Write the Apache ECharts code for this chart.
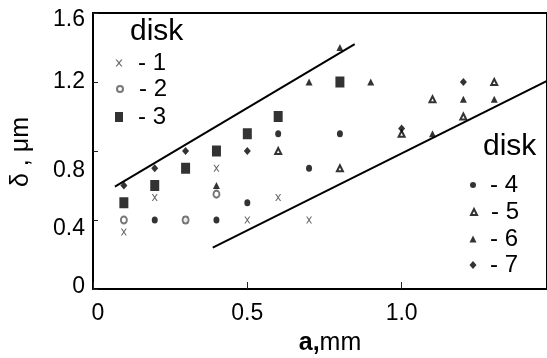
<!DOCTYPE html>
<html><head><meta charset="utf-8">
<script src="https://cdn.jsdelivr.net/npm/echarts@6/dist/echarts.min.js"></script>
<style>html,body{margin:0;padding:0;background:#fff}#c{width:547px;height:358px}</style>
</head><body><div id="c"></div>
<script>
// data: [a (mm), delta (um)]
var disk1 = [[0.1,0.33],[0.2,0.53],[0.3,0.40],[0.4,0.70],[0.5,0.40],[0.6,0.53],[0.7,0.40]];
var disk2 = [[0.1,0.40],[0.3,0.40],[0.4,0.55]];
var disk3 = [[0.1,0.50],[0.2,0.60],[0.3,0.70],[0.4,0.80],[0.5,0.90],[0.6,1.00],[0.8,1.20]];
var disk4 = [[0.2,0.40],[0.4,0.40],[0.5,0.50],[0.6,0.90],[0.7,0.70],[0.8,0.90]];
var disk5 = [[0.6,0.80],[0.8,0.70],[1.0,0.90],[1.1,1.10],[1.2,1.00],[1.3,1.20]];
var disk6 = [[0.4,0.60],[0.7,1.20],[0.8,1.40],[0.9,1.20],[1.1,0.90],[1.2,1.10],[1.3,1.10]];
var disk7 = [[0.1,0.60],[0.2,0.70],[0.3,0.80],[0.5,0.80],[1.0,0.93],[1.2,1.20]];
var upperLine = [[0.071,0.593],[0.848,1.42]];
var lowerLine = [[0.388,0.24],[1.471,1.206]];
var yTicks = ['0','0.4','0.8','1.2','1.6'];
var xTicks = ['0','0.5','1.0'];

var FONT = '"Liberation Sans", Arial, sans-serif';
var XPATH = 'path://M0,0 L2,0 L5,3.6 L8,0 L10,0 L6,5 L10,10 L8,10 L5,6.4 L2,10 L0,10 L4,5 Z';

var chart = echarts.init(document.getElementById('c'), null, {renderer:'canvas'});

function legendFor(name, cx, cy, w, h, textStart) {
  var left = cx - w/2;
  return {
    data:[name], orient:'vertical', left:left, top:cy-12, padding:0,
    itemWidth:w, itemHeight:h, selectedMode:false,
    formatter: function(n){ return '- ' + n; },
    textStyle:{fontFamily:FONT, fontSize:24, color:'#000', lineHeight:24,
      padding:[0,0,0,Math.max(0,textStart-(left+w+5))]}
  };
}

var yRich = {
  y0:{fontFamily:FONT,fontSize:23,color:'#000',padding:[0,0,4,0]},
  y4:{fontFamily:FONT,fontSize:23,color:'#000',padding:[18,0,0,0]},
  y8:{fontFamily:FONT,fontSize:23,color:'#000',padding:[40,0,0,0]},
  y12:{fontFamily:FONT,fontSize:23,color:'#000',padding:[0,0,0,0]},
  y16:{fontFamily:FONT,fontSize:23,color:'#000',padding:[14,0,0,0]}
};

chart.setOption({
  animation:false,
  backgroundColor:'#fff',
  grid:{left:93, top:13, right:-2, bottom:69, show:true, borderColor:'#000', borderWidth:2, backgroundColor:'transparent'},
  xAxis:{type:'value', min:0, max:1.471, interval:0.5,
    axisLine:{lineStyle:{color:'#000', width:2}},
    axisTick:{inside:true, length:7, lineStyle:{color:'#222', width:1}},
    splitLine:{show:false},
    axisLabel:{showMaxLabel:false, margin:13,
      formatter:function(v){ var i=Math.round(v*2); return i===0 ? '{z|'+xTicks[0]+'}' : (xTicks[i]||''); },
      rich:{z:{fontFamily:FONT,fontSize:23,color:'#000',padding:[0,0,8,10]}},
      fontFamily:FONT, fontSize:23, color:'#000'}
  },
  yAxis:{type:'value', min:0, max:1.6, interval:0.4,
    axisLine:{lineStyle:{color:'#000', width:2}},
    axisTick:{inside:true, length:5, lineStyle:{color:'#222', width:1}},
    splitLine:{show:false},
    axisLabel:{margin:8, fontFamily:FONT, fontSize:23, color:'#000',
      formatter:function(v){ var i=Math.round(v/0.4); var k=['y0','y4','y8','y12','y16'][i]; return '{'+k+'|'+yTicks[i]+'}'; },
      rich:yRich}
  },
  legend:[
    legendFor('1',119,63,7,7,138),
    legendFor('2',119,89,6,7,138),
    legendFor('3',119,117,8,10,138),
    legendFor('4',473,185,6,7,490),
    legendFor('5',473,212,6,6,490),
    legendFor('6',473,239,7,7,490),
    legendFor('7',473,265,7,8,490)
  ],
  graphic:[
    {type:'text', left:130, top:17, style:{text:'disk', font:'30px '+FONT, fill:'#000'}},
    {type:'text', left:483, top:132, style:{text:'disk', font:'30px '+FONT, fill:'#000'}},
    {type:'text', x:21, y:152, rotation:Math.PI/2, style:{text:'δ , μm', font:'25px '+FONT, fill:'#000', align:'center', verticalAlign:'middle'}},
    {type:'text', x:330, y:343, style:{rich:{b:{font:'bold 25px '+FONT,fill:'#000'},n:{font:'25px '+FONT,fill:'#000'}}, text:'{b|a,}{n|mm}', align:'center', verticalAlign:'middle'}}
  ],
  series:[
    {name:'1', type:'scatter', data:disk1, symbol:XPATH, symbolSize:[6,7], itemStyle:{color:'#444'}},
    {name:'2', type:'scatter', data:disk2, symbol:'emptyCircle', symbolSize:[6,7], itemStyle:{color:'#555', borderWidth:1.2}},
    {name:'3', type:'scatter', data:disk3, symbol:'rect', symbolSize:[9,11], itemStyle:{color:'#000'}},
    {name:'4', type:'scatter', data:disk4, symbol:'circle', symbolSize:[6,7], itemStyle:{color:'#000'}},
    {name:'5', type:'scatter', data:disk5, symbol:'emptyTriangle', symbolSize:[6,6], itemStyle:{color:'#000', borderWidth:1}},
    {name:'6', type:'scatter', data:disk6, symbol:'triangle', symbolSize:[7,7], itemStyle:{color:'#000'}},
    {name:'7', type:'scatter', data:disk7, symbol:'diamond', symbolSize:[7,8], itemStyle:{color:'#000'}},
    {name:'upper', type:'line', data:upperLine, symbol:'none', lineStyle:{color:'#000', width:2}, silent:true, z:1},
    {name:'lower', type:'line', data:lowerLine, symbol:'none', lineStyle:{color:'#000', width:2}, silent:true, z:1, clip:true}
  ]
});
</script>
</body></html>
